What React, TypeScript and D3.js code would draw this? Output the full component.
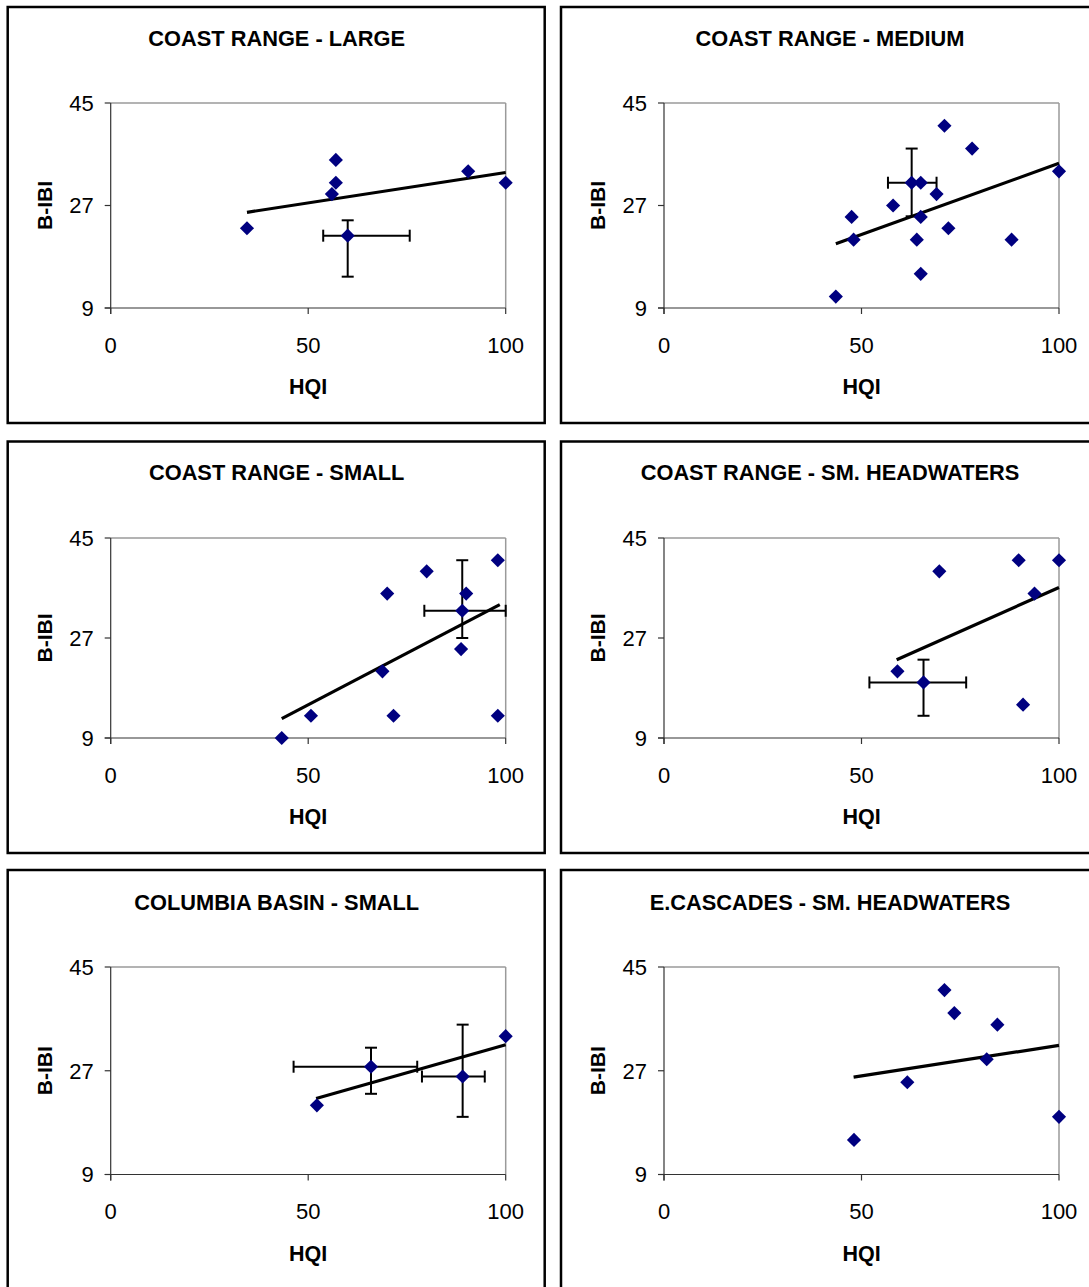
import * as d3 from "d3";

const W = 1089;
const H = 1287;

const titles = [
  "COAST RANGE - LARGE",
  "COAST RANGE - MEDIUM",
  "COAST RANGE - SMALL",
  "COAST RANGE - SM. HEADWATERS",
  "COLUMBIA BASIN - SMALL",
  "E.CASCADES - SM. HEADWATERS",
];
const xTicks = [0, 50, 100];
const yTicks = [9, 27, 45];

// site values, HQI (x) and B-IBI (y)
const largeHqi = [34.5, 57, 57, 56, 90.5, 100];
const largeBibi = [23, 35, 31, 29, 33, 31];
const mediumHqi = [71, 78, 100, 65, 69, 58, 47.5, 65, 72, 48, 64, 88, 65, 43.5];
const mediumBibi = [41, 37, 33, 31, 29, 27, 25, 25, 23, 21, 21, 21, 15, 11];
const smallHqi = [98, 80, 70, 90, 88.7, 68.8, 50.7, 71.6, 98, 43.3];
const smallBibi = [41, 39, 35, 35, 25, 21, 13, 13, 13, 9];
const headHqi = [89.8, 100, 69.7, 93.8, 59.1, 90.9];
const headBibi = [41, 41, 39, 35, 21, 15];
const columbiaHqi = [100, 52.2];
const columbiaBibi = [33, 21];
const cascadesHqi = [71, 73.5, 84.4, 81.7, 61.6, 100, 48.1];
const cascadesBibi = [41, 37, 35, 29, 25, 19, 15];

// means with error ranges
const largeMeans = [{ x: 60, y: 21.7, xLo: 53.8, xHi: 75.7, yLo: 14.5, yHi: 24.4 }];
const mediumMeans = [{ x: 62.7, y: 31, xLo: 56.7, xHi: 69, yLo: 25.1, yHi: 37 }];
const smallMeans = [{ x: 89, y: 31.9, xLo: 79.4, xHi: 100, yLo: 27, yHi: 41 }];
const headMeans = [{ x: 65.7, y: 19, xLo: 52, xHi: 76.5, yLo: 13, yHi: 23.1 }];
const columbiaMeans = [
  { x: 65.9, y: 27.7, xLo: 46.3, xHi: 77.6, yLo: 23, yHi: 31 },
  { x: 89.1, y: 26, xLo: 78.8, xHi: 94.7, yLo: 19, yHi: 35 },
];
const cascadesMeans: any[] = [];

// trend line end points [hqi, bibi]
const largeTrend = [[34.5, 25.8], [100, 32.8]];
const mediumTrend = [[43.5, 20.3], [100, 34.4]];
const smallTrend = [[43.3, 12.5], [98.5, 33]];
const headTrend = [[58.9, 23.1], [100, 36.1]];
const columbiaTrend = [[52, 22.2], [100, 31.5]];
const cascadesTrend = [[48, 25.9], [100, 31.4]];

const panels = [
  { hqi: largeHqi, bibi: largeBibi, means: largeMeans, trend: largeTrend },
  { hqi: mediumHqi, bibi: mediumBibi, means: mediumMeans, trend: mediumTrend },
  { hqi: smallHqi, bibi: smallBibi, means: smallMeans, trend: smallTrend },
  { hqi: headHqi, bibi: headBibi, means: headMeans, trend: headTrend },
  { hqi: columbiaHqi, bibi: columbiaBibi, means: columbiaMeans, trend: columbiaTrend },
  { hqi: cascadesHqi, bibi: cascadesBibi, means: cascadesMeans, trend: cascadesTrend },
];

const colLeft = [7.7, 561];
const rowTop = [7, 441.5, 870];
const rowH = [416, 411.5, 420];
const plotTop = [103, 538, 967];
const plotBottom = [308, 738, 1174.5];
const titleY = [38, 472.5, 902.5];

const font = "'Liberation Sans', Arial, sans-serif";
const diamond = d3.symbol(d3.symbolSquare, 100)();

function Panel({ i }: { i: number }) {
  const row = Math.floor(i / 2);
  const col = i % 2;
  const left = colLeft[col];
  const p = panels[i];
  const x = d3.scaleLinear().domain([0, 100]).range([left + 103, left + 498]);
  const y = d3.scaleLinear().domain([9, 45]).range([plotBottom[row], plotTop[row]]);
  const x0 = x(0), x1 = x(100), y0 = y(9), y1 = y(45);
  const midX = (x0 + x1) / 2;
  const midY = (y0 + y1) / 2;
  const line = d3.line<number[]>().x(d => x(d[0])).y(d => y(d[1]));
  const cap = 6;

  return (
    <g fontFamily={font}>
      <rect x={left} y={rowTop[row]} width={537} height={rowH[row]} fill="white" stroke="#000" strokeWidth={2.5} />
      <text x={left + 269} y={titleY[row] + 7.8} textAnchor="middle" fontSize={21.8} fontWeight="bold">{titles[i]}</text>

      {/* frame */}
      <line x1={x0} x2={x1} y1={y1} y2={y1} stroke="#9a9a9a" strokeWidth={1.5} />
      <line x1={x1} x2={x1} y1={y1} y2={y0} stroke="#9a9a9a" strokeWidth={1.5} />
      <line x1={x0} x2={x0} y1={y1} y2={y0 + 6} stroke="#333" strokeWidth={1.2} />
      <line x1={x0 - 6} x2={x1} y1={y0} y2={y0} stroke="#333" strokeWidth={1.2} />
      {yTicks.map(t => (
        <g key={"y" + t}>
          <line x1={x0 - 6} x2={x0} y1={y(t)} y2={y(t)} stroke="#333" strokeWidth={1.2} />
          <text x={x0 - 17} y={y(t) + 7.8} textAnchor="end" fontSize={22}>{t}</text>
        </g>
      ))}
      {xTicks.map(t => (
        <g key={"x" + t}>
          <line x1={x(t)} x2={x(t)} y1={y0} y2={y0 + 6} stroke="#333" strokeWidth={1.2} />
          <text x={x(t)} y={y0 + 44.5} textAnchor="middle" fontSize={22}>{t}</text>
        </g>
      ))}
      <text x={midX} y={y0 + 86} textAnchor="middle" fontSize={21.5} fontWeight="bold">HQI</text>
      <text transform={`translate(${x0 - 59},${midY}) rotate(-90)`} textAnchor="middle" fontSize={21} fontWeight="bold">B-IBI</text>

      {/* trend */}
      <path d={line(p.trend) || ""} stroke="#000" strokeWidth={3.2} fill="none" />

      {/* error bars */}
      {p.means.map((m, k) => (
        <g key={"e" + k} stroke="#000" strokeWidth={2}>
          <line x1={x(m.xLo)} x2={x(m.xHi)} y1={y(m.y)} y2={y(m.y)} />
          <line x1={x(m.xLo)} x2={x(m.xLo)} y1={y(m.y) - cap} y2={y(m.y) + cap} />
          <line x1={x(m.xHi)} x2={x(m.xHi)} y1={y(m.y) - cap} y2={y(m.y) + cap} />
          <line x1={x(m.x)} x2={x(m.x)} y1={y(m.yLo)} y2={y(m.yHi)} />
          <line x1={x(m.x) - cap} x2={x(m.x) + cap} y1={y(m.yLo)} y2={y(m.yLo)} />
          <line x1={x(m.x) - cap} x2={x(m.x) + cap} y1={y(m.yHi)} y2={y(m.yHi)} />
        </g>
      ))}

      {/* points */}
      {p.hqi.map((v, k) => (
        <path key={"p" + k} d={diamond || ""} fill="#000080"
          transform={`translate(${x(v)},${y(p.bibi[k])}) rotate(45)`} />
      ))}
      {p.means.map((m, k) => (
        <path key={"m" + k} d={diamond || ""} fill="#000080"
          transform={`translate(${x(m.x)},${y(m.y)}) rotate(45)`} />
      ))}
    </g>
  );
}

export default function App() {
  return (
    <svg width={W} height={H} viewBox={`0 0 ${W} ${H}`}
      style={{ position: "absolute", left: 0, top: 0, background: "white" }}>
      <rect width={W} height={H} fill="white" />
      {panels.map((_, i) => <Panel key={i} i={i} />)}
    </svg>
  );
}
